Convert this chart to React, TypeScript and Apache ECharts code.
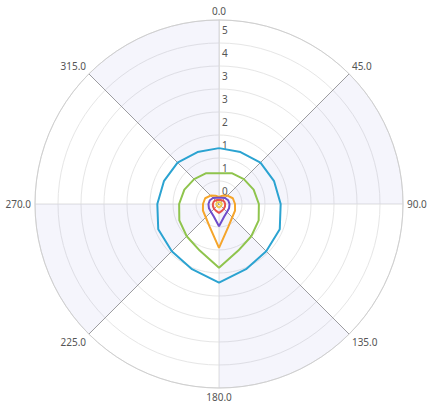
import React, { useEffect, useRef } from "react";
import * as echarts from "echarts";

// Angles (degrees, clockwise from top)
const angles = [0, 22.5, 45, 67.5, 90, 112.5, 135, 157.5, 180, 202.5, 225, 247.5, 270, 292.5, 315, 337.5, 360];

const seriesNames = ["Series A", "Series B", "Series C", "Series D", "Series E", "Series F"];
const seriesColors = ["#2ba3d1", "#8fc44d", "#f5a52b", "#6f4ccb", "#e8534a", "#f2c94c"];

const blueValues = [1.64, 1.65, 1.72, 1.75, 1.81, 1.93, 1.96, 2.07, 2.31, 2.07, 1.96, 1.93, 1.81, 1.75, 1.72, 1.65, 1.64];
const greenValues = [0.9, 0.98, 1.03, 1.1, 1.17, 1.26, 1.34, 1.48, 1.87, 1.48, 1.34, 1.26, 1.17, 1.1, 1.03, 0.98, 0.9];
const orangeValues = [0.21, 0.26, 0.35, 0.44, 0.47, 0.51, 0.55, 0.72, 1.29, 0.72, 0.55, 0.51, 0.47, 0.44, 0.35, 0.26, 0.21];
const purpleValues = [0.18, 0.2, 0.25, 0.29, 0.31, 0.32, 0.33, 0.4, 0.65, 0.4, 0.33, 0.32, 0.31, 0.29, 0.25, 0.2, 0.18];
const redValues = [0.12, 0.13, 0.15, 0.17, 0.18, 0.19, 0.2, 0.22, 0.26, 0.22, 0.2, 0.19, 0.18, 0.17, 0.15, 0.13, 0.12];
const yellowValues = [0.06, 0.06, 0.07, 0.07, 0.08, 0.08, 0.08, 0.09, 0.1, 0.09, 0.08, 0.08, 0.08, 0.07, 0.07, 0.06, 0.06];

const allValues = [blueValues, greenValues, orangeValues, purpleValues, redValues, yellowValues];

const radiusMax = 5.4;
const radiusInterval = 0.675;
const angleInterval = 45;

export default function App() {
  const ref = useRef<HTMLDivElement>(null);
  useEffect(() => {
    if (!ref.current) return;
    const chart = echarts.init(ref.current, undefined, { renderer: "svg" });
    const font = "'Noto Sans', 'Open Sans', sans-serif";
    chart.setOption({
      animation: false,
      backgroundColor: "#ffffff",
      polar: { center: [219, 204], radius: 184 },
      angleAxis: {
        type: "value",
        min: 0,
        max: 360,
        interval: angleInterval,
        startAngle: 90,
        clockwise: true,
        axisLine: { show: true, lineStyle: { color: "#cfcfcf", width: 1 } },
        axisTick: { show: false },
        axisLabel: {
          show: true,
          margin: 4,
          color: "#555",
          fontSize: 10,
          fontFamily: font,
          formatter: (v: number) => (v >= 360 ? "" : v.toFixed(1)),
        },
        splitLine: { show: true, lineStyle: { color: ["#dedede", "#9c9c9c"], width: 1 } },
        splitArea: { show: true, areaStyle: { color: ["rgba(255,255,255,0)", "rgba(155,155,225,0.1)"] } },
      },
      radiusAxis: {
        type: "value",
        min: 0,
        max: radiusMax,
        interval: radiusInterval,
        axisLine: { show: true, lineStyle: { color: "#dedede" } },
        axisTick: { show: false },
        axisLabel: {
          show: true,
          color: "#555",
          fontSize: 10,
          fontFamily: font,
          margin: -3,
          align: "left",
          verticalAlign: "bottom",
          padding: [0, 0, 8, 0],
          showMaxLabel: false,
          formatter: (v: number) => (v >= radiusMax - 0.01 ? "" : String(Math.round(v))),
        },
        splitLine: { show: true, lineStyle: { color: "#e6e6e6", width: 1 } },
      },
      series: allValues.map((vals, i) => ({
        name: seriesNames[i],
        type: "line",
        coordinateSystem: "polar",
        showSymbol: false,
        symbol: "none",
        lineStyle: { color: seriesColors[i], width: 2 },
        itemStyle: { color: seriesColors[i] },
        data: vals.map((v, j) => [v, angles[j]]),
      })),
    });
    return () => chart.dispose();
  }, []);
  return (
    <div
      ref={ref}
      style={{ position: "fixed", left: 0, top: 0, width: 427, height: 403 }}
    />
  );
}
